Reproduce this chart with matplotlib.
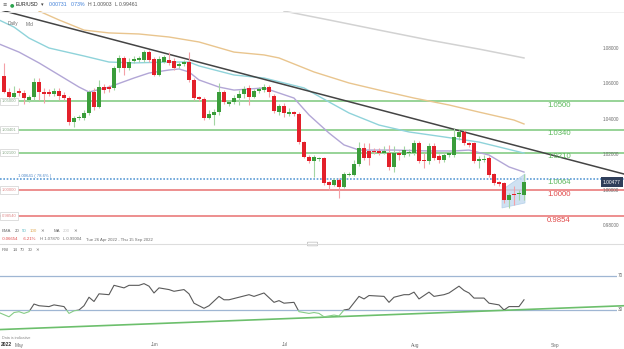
import matplotlib.pyplot as plt
import numpy as np
from matplotlib.patches import Rectangle, Polygon, FancyBboxPatch
from matplotlib.lines import Line2D
from matplotlib.transforms import blended_transform_factory

plt.rcParams['font.family'] = ['Liberation Sans', 'DejaVu Sans']

# daily candles (index 1..105), EUR/USD
opens = [
    1.0644, 1.0554, 1.0522, 1.0559, 1.0545, 1.0507, 1.0526, 1.0610, 1.0554, 1.0554,
    1.0541, 1.0559, 1.0535, 1.0520, 1.0381, 1.0404, 1.0404, 1.0432, 1.0550, 1.0469,
    1.0582, 1.0582, 1.0573, 1.0686, 1.0742, 1.0689, 1.0728, 1.0732, 1.0732, 1.0779,
    1.0738, 1.0648, 1.0723, 1.0732, 1.0727, 1.0699, 1.0708, 1.0723, 1.0620, 1.0522,
    1.0513, 1.0407, 1.0423, 1.0441, 1.0550, 1.0485, 1.0494, 1.0517, 1.0539, 1.0573,
    1.0526, 1.0558, 1.0563, 1.0582, 1.0531, 1.0441, 1.0475, 1.0426, 1.0438, 1.0428,
    1.0269, 1.0188, 1.0163, 1.0173, 1.0179, 1.0043, 1.0028, 1.0056, 1.0019, 1.0085,
    1.0085, 1.0145, 1.0238, 1.0220, 1.0220, 1.0220, 1.0210, 1.0210, 1.0128, 1.0207,
    1.0197, 1.0207, 1.0210, 1.0263, 1.0169, 1.0163, 1.0250, 1.0192, 1.0169, 1.0197,
    1.0197, 1.0300, 1.0325, 1.0263, 1.0263, 1.0163, 1.0169, 1.0179, 1.0088, 1.0043,
    1.0038, 0.9944, 0.9977, 0.9976, 0.99746]
highs = [
    1.0714, 1.0575, 1.0586, 1.0575, 1.0563, 1.0535, 1.0631, 1.0631, 1.0575, 1.0569,
    1.0575, 1.0575, 1.0552, 1.0530, 1.0417, 1.0423, 1.0451, 1.0563, 1.0575, 1.0620,
    1.0597, 1.0592, 1.0699, 1.0761, 1.0755, 1.0744, 1.0755, 1.0755, 1.0787, 1.0787,
    1.0749, 1.0755, 1.0761, 1.0778, 1.0744, 1.0721, 1.0732, 1.0779, 1.0631, 1.0530,
    1.0524, 1.0451, 1.0456, 1.0603, 1.0563, 1.0507, 1.0535, 1.0563, 1.0586, 1.0592,
    1.0569, 1.0580, 1.0597, 1.0592, 1.0541, 1.0485, 1.0490, 1.0462, 1.0445, 1.0440,
    1.0276, 1.0197, 1.0197, 1.0186, 1.0186, 1.0051, 1.0068, 1.0068, 1.0101, 1.0101,
    1.0169, 1.0272, 1.0265, 1.0265, 1.0237, 1.0237, 1.0248, 1.0254, 1.0248, 1.0220,
    1.0248, 1.0231, 1.0282, 1.0276, 1.0208, 1.0265, 1.0265, 1.0203, 1.0214, 1.0220,
    1.0348, 1.0338, 1.0338, 1.0270, 1.0270, 1.0192, 1.0197, 1.0192, 1.0096, 1.0051,
    1.0045, 0.9983, 1.0023, 1.0000, 1.00903]
lows = [
    1.0545, 1.0507, 1.0507, 1.0530, 1.0485, 1.0496, 1.0507, 1.0507, 1.0490, 1.0530,
    1.0530, 1.0507, 1.0507, 1.0366, 1.0355, 1.0394, 1.0394, 1.0423, 1.0451, 1.0462,
    1.0546, 1.0552, 1.0563, 1.0665, 1.0648, 1.0676, 1.0716, 1.0721, 1.0721, 1.0721,
    1.0642, 1.0642, 1.0716, 1.0704, 1.0676, 1.0687, 1.0699, 1.0608, 1.0507, 1.0501,
    1.0394, 1.0400, 1.0366, 1.0423, 1.0485, 1.0473, 1.0485, 1.0479, 1.0518, 1.0479,
    1.0518, 1.0546, 1.0552, 1.0524, 1.0434, 1.0423, 1.0413, 1.0417, 1.0417, 1.0259,
    1.0180, 1.0152, 1.0075, 1.0163, 1.0028, 1.0000, 1.0023, 0.9953, 1.0011, 1.0079,
    1.0079, 1.0135, 1.0169, 1.0141, 1.0203, 1.0197, 1.0203, 1.0113, 1.0101, 1.0169,
    1.0186, 1.0192, 1.0197, 1.0152, 1.0124, 1.0146, 1.0169, 1.0152, 1.0158, 1.0186,
    1.0186, 1.0282, 1.0254, 1.0242, 1.0152, 1.0124, 1.0158, 1.0073, 1.0028, 1.0023,
    0.9925, 0.9900, 0.9915, 0.9944, 0.99461]
closes = [
    1.0554, 1.0522, 1.0548, 1.0545, 1.0517, 1.0526, 1.0608, 1.0554, 1.0541, 1.0539,
    1.0559, 1.0530, 1.0520, 1.0381, 1.0407, 1.0413, 1.0436, 1.0550, 1.0468, 1.0582,
    1.0563, 1.0569, 1.0686, 1.0742, 1.0686, 1.0723, 1.0738, 1.0742, 1.0779, 1.0732,
    1.0648, 1.0738, 1.0749, 1.0714, 1.0689, 1.0708, 1.0723, 1.0618, 1.0520, 1.0513,
    1.0404, 1.0428, 1.0441, 1.0550, 1.0497, 1.0494, 1.0520, 1.0539, 1.0569, 1.0526,
    1.0558, 1.0569, 1.0582, 1.0554, 1.0445, 1.0475, 1.0432, 1.0438, 1.0426, 1.0272,
    1.0188, 1.0163, 1.0188, 1.0179, 1.0038, 1.0028, 1.0056, 1.0019, 1.0088, 1.0090,
    1.0145, 1.0238, 1.0182, 1.0182, 1.0212, 1.0210, 1.0220, 1.0128, 1.0210, 1.0197,
    1.0225, 1.0216, 1.0263, 1.0163, 1.0163, 1.0250, 1.0182, 1.0169, 1.0197, 1.0207,
    1.0300, 1.0325, 1.0263, 1.0254, 1.0163, 1.0175, 1.0175, 1.0085, 1.0038, 1.0034,
    0.9944, 0.9972, 0.9972, 0.9981, 1.00477]

# moving averages (candle index, price)
ema20_idx = [0, 4, 8, 12, 16, 18, 22, 27, 30, 34, 36, 38, 40, 44, 47, 53, 59, 62, 66, 69, 72, 79, 86, 91, 94, 98, 102, 105]
ema20_val = [1.0823, 1.0777, 1.0716, 1.0648, 1.0580, 1.0552, 1.0580, 1.0631, 1.0659, 1.0676, 1.0682, 1.0665, 1.0620,
             1.0580, 1.0563, 1.0575, 1.0518, 1.0423, 1.0321, 1.0254, 1.0225, 1.0225, 1.0220, 1.0220, 1.0225, 1.0197,
             1.0130, 1.0101]
ema50_idx = [0, 3, 6, 10, 17, 22, 27, 34, 38, 40, 47, 53, 61, 66, 70, 76, 82, 89, 96, 105]
ema50_val = [1.0958, 1.0918, 1.0856, 1.0800, 1.0755, 1.0721, 1.0716, 1.0721, 1.0721, 1.0699, 1.0648, 1.0631,
             1.0575, 1.0496, 1.0434, 1.0366, 1.0327, 1.0299, 1.0270, 1.0208]
ema100_idx = [8, 12, 17, 22, 28, 34, 40, 47, 53, 56, 63, 70, 76, 83, 90, 96, 103, 105]
ema100_val = [1.1008, 1.0958, 1.0901, 1.0885, 1.0879, 1.0862, 1.0834, 1.0777, 1.0761, 1.0744, 1.0665, 1.0603,
              1.0563, 1.0518, 1.0479, 1.0439, 1.0394, 1.0372]
ma200_idx = [57, 66, 76, 86, 96, 105]
ma200_val = [1.1008, 1.0958, 1.0901, 1.0845, 1.0794, 1.0744]

# descending trendline and wedge near the last candles
trend_idx = [0.2, 125]
trend_val = [1.1015, 1.0090]
wedge_idx = [100.6, 105.2, 105.2, 100.6]
wedge_val = [1.0000, 1.0090, 0.9927, 0.9899]

# horizontal levels
levels = [1.0500, 1.03401, 1.0210, 1.0000, 0.98540]
level_names = ['1.0500', '1.0340', '1.0210', '1.0000', '0.9854']
level_tags = ['1.05000', '1.03401', '1.02100', '1.00000', '0.98540']
level_green = [True, True, True, False, False]
fib_level = 1.00641
fib_name = '1.0064'
fib_tag = '1.00641 ( 78.6% )'
price_ticks = [1.08, 1.06, 1.04, 1.02, 1.00, 0.98]

# RSI(14)
rsi_idx = [0, 2, 3, 4, 5, 6, 7, 8, 10, 11, 13, 14, 15, 16, 17, 18, 19, 20, 22, 23, 25, 26, 28, 29, 30,
           31, 32, 34, 35, 37, 38, 39, 41, 42, 44, 45, 46, 48, 50, 51, 53, 55, 56, 57, 59, 60, 62, 63,
           64, 65, 67, 68, 69, 70, 72, 73, 74, 77, 78, 79, 81, 82, 83, 84, 86, 87, 89, 90, 92, 93, 94,
           95, 97, 98, 100, 101, 102, 104, 105]
rsi_val = [27, 22, 27, 28, 26, 28, 37, 35, 34, 36, 34, 26, 29, 30, 35, 45, 40, 49, 48, 59, 56, 59, 59, 61, 58,
           50, 56, 54, 52, 54, 49, 38, 32, 35, 46, 42, 42, 45, 48, 46, 50, 39, 41, 38, 39, 28, 26, 27,
           26, 22, 24, 23, 30, 31, 46, 43, 47, 46, 39, 45, 48, 48, 51, 43, 51, 46, 48, 50, 58, 53, 50,
           44, 44, 38, 36, 30, 34, 34, 42]
rsi_trend_idx = [0.2, 125]
rsi_trend_val = [7, 35]

month_names = ['May', 'Jun', 'Jul', 'Aug', 'Sep']
month_idx = [4.1, 31.2, 57.2, 83.2, 111.2]

W, H = 624, 349
fig = plt.figure(figsize=(W / 100, H / 100), dpi=100)
renderer = fig.canvas.get_renderer()


def fx(px):
    return px / W


def fy(py):
    return 1 - py / H


GREEN_LVL = '#8fd08f'
RED_LVL = '#e87070'
GREY = '#6b6b6b'

# ---------------- price pane ----------------
ax = fig.add_axes([0, fy(243), 1, (243 - 11) / H])
ax.set_xlim(0.2, 125)
ax.set_ylim(0.97014, 1.10085)
ax.axis('off')
ytr = ax.get_yaxis_transform()

for lv, name, tag, g in zip(levels, level_names, level_tags, level_green):
    col = GREEN_LVL if g else RED_LVL
    ax.axhline(lv, color=col, lw=1.3 if g else 1.1, zorder=1)
    ax.text(559 / W, lv - 0.0004, name, transform=ytr, ha='center', va='top', fontsize=5.6,
            color='#5cb85c' if g else '#e04848', zorder=6)
    ax.text(0.003, lv, tag, transform=ytr, ha='left', va='center', fontsize=3.0,
            color='#8aa98a' if g else '#e08a8a', zorder=6,
            bbox=dict(boxstyle='square,pad=0.4', fc='white', ec='#d0d0d0', lw=0.5))

ax.axhline(fib_level, color='#5b9bd5', lw=1.2, ls=(0, (1, 1)), zorder=1)
ax.text(18 / W, fib_level + 0.0003, fib_tag, transform=ytr, ha='left', va='bottom', fontsize=3.1,
        color='#4a86c8', zorder=6)
ax.text(559 / W, fib_level - 0.0004, fib_name, transform=ytr, ha='center', va='top', fontsize=5.6,
        color='#5cb85c', zorder=6)

# moving averages and trendline
ax.plot(ma200_idx, ma200_val, color='#d2d2d2', lw=1.1, zorder=2)
ax.plot(ema100_idx, ema100_val, color='#e9c58e', lw=1.0, zorder=2)
ax.plot(ema50_idx, ema50_val, color='#8fd3da', lw=1.0, zorder=2)
ax.plot(ema20_idx, ema20_val, color='#b2a6d6', lw=1.0, zorder=2)
ax.plot(trend_idx, trend_val, color='#444444', lw=1.1, zorder=3)

ax.add_patch(Polygon(list(zip(wedge_idx, wedge_val)), closed=True, fc='#c4daef', ec='#b0cde8',
                     lw=0.6, alpha=0.8, zorder=2))

# candles
idx = np.arange(1, len(opens) + 1)
o, h, l, c = map(np.array, (opens, highs, lows, closes))
up = c >= o
body_col = np.where(up, '#3a9d3a', '#e3202a')
wick_col = np.where(up, '#a3d6a3', '#f4a0a6')
ax.vlines(idx, l, h, colors=wick_col, lw=0.8, zorder=4)
ax.bar(idx, np.maximum(np.abs(c - o), 0.0004), bottom=np.minimum(o, c), width=0.66,
       color=body_col, lw=0, zorder=5)

# right price scale
for p in price_ticks:
    ax.text(603 / W, p, f'{p:.5f}', transform=ytr, ha='left', va='center', fontsize=3.3,
            color=GREY, zorder=6)
ax.text(612 / W, closes[-1] - 0.0003, '1.00477', transform=ytr, ha='center', va='center',
        fontsize=3.5, color='white', zorder=7,
        bbox=dict(boxstyle='square,pad=0.45', fc='#2f3e5a', ec='none'))

# ---------------- RSI pane ----------------
ax2 = fig.add_axes([0, fy(333), 1, (333 - 244) / H])
ax2.set_xlim(0.2, 125)
ax2.set_ylim(2.94, 107.6)
ax2.axis('off')
ax2.axhline(70, color='#9fb6d3', lw=0.9)
ax2.axhline(30, color='#9fb6d3', lw=0.9)
ax2.plot(rsi_trend_idx, rsi_trend_val, color='#6cbf6c', lw=1.2, zorder=2)
gray_line, = ax2.plot(rsi_idx, rsi_val, color='#5a5a5a', lw=0.8, zorder=3)
green_line, = ax2.plot(rsi_idx, rsi_val, color='#86cc86', lw=0.8, zorder=3)
gray_line.set_clip_path(Rectangle((0, 30), 200, 100, transform=ax2.transData))
green_line.set_clip_path(Rectangle((0, -10), 200, 40, transform=ax2.transData))
ytr2 = ax2.get_yaxis_transform()
for v in (70, 30):
    ax2.text(623 / W, v, str(v), transform=ytr2, ha='right', va='center', fontsize=3.3, color=GREY,
             bbox=dict(boxstyle='square,pad=0.2', fc='white', ec='none'))

# month axis
mtr = blended_transform_factory(ax2.transData, fig.transFigure)
for name, k in zip(month_names, month_idx):
    ax2.text(k, fy(345), name, transform=mtr, ha='center', va='center', fontsize=3.4, color=GREY,
             clip_on=False)
fig.text(fx(1), fy(345), '2022', ha='left', va='center', fontsize=3.6, color='#333333', weight='bold')
fig.text(fx(2), fy(338), 'Data is indicative', ha='left', va='center', fontsize=2.7, color='#888888')

# ---------------- header and legends ----------------
fig.add_artist(Line2D([0, 1], [fy(11.5), fy(11.5)], color='#eeeeee', lw=0.6))
fig.add_artist(Line2D([0, 1], [fy(243.5), fy(243.5)], color='#dddddd', lw=0.8))
fig.add_artist(FancyBboxPatch((fx(308), fy(245.5)), fx(9), 3 / H, boxstyle='round,pad=0.001',
                              fc='white', ec='#bbbbbb', lw=0.5))


def text_row(x, y, pieces, size):
    # lay pieces out left to right, each one after the previous one's width
    for s, col, gap in pieces:
        kw = {'family': ['DejaVu Sans']} if s in ('≡', '●', '▾', '✕') else {}
        t = fig.text(fx(x), fy(y), s, ha='left', va='center', fontsize=size, color=col, **kw)
        x += t.get_window_extent(renderer=renderer).width + gap


text_row(2, 5, [('≡', '#555555', 3), ('●', '#2ea44f', 2), ('EUR/USD', '#222222', 3),
                ('▾', '#444444', 5), ('0.00731', '#3b7dd8', 3), ('0.73%', '#3b7dd8', 3),
                ('H 1.00903', '#555555', 3), ('L 0.99461', '#555555', 3)], 3.7)
text_row(8, 24, [('Daily', GREY, 7), ('Mid', GREY, 0)], 3.4)

text_row(2, 231, [('EMA', GREY, 3), ('20', '#666666', 3), ('50', '#5fbcc6', 3), ('100', '#e0aa55', 3),
                  ('✕', GREY, 10), ('MA', GREY, 3), ('200', '#c8c8c8', 3), ('✕', GREY, 0)], 3.2)
text_row(2, 239.5, [('-0.06654', '#e04848', 4), ('-6.21%', '#e04848', 4), ('H 1.07870', GREY, 4),
                    ('L 0.99004', GREY, 4), ('Tue 26 Apr 2022 - Thu 15 Sep 2022', GREY, 0)], 3.1)
text_row(2, 250, [('RSI', GREY, 3), ('14', GREY, 3), ('70', GREY, 3), ('30', GREY, 3), ('✕', GREY, 0)], 3.2)

fig.savefig('out.png', dpi=100, facecolor='white')
